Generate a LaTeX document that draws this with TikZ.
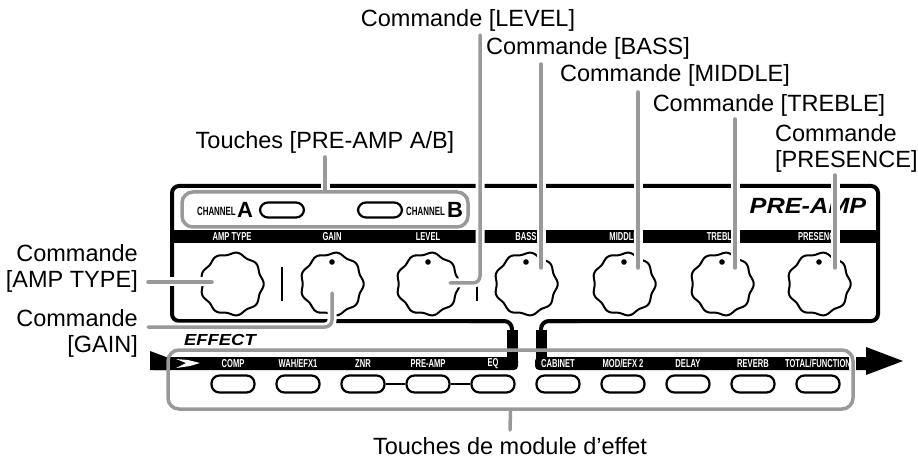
\documentclass[tikz,border=0pt]{standalone}
\usepackage{fontspec}
\setmainfont{Liberation Sans}
\newfontfamily\labfont{Liberation Sans}[FakeStretch=0.66]
\newfontfamily\titfont{Liberation Sans}[FakeStretch=1.15]
\usetikzlibrary{calc}
\definecolor{ldr}{gray}{0.6}
\begin{document}
\begin{tikzpicture}[x=1pt,y=-1pt,
  callout/.style={font=\fontsize{23.5}{26}\selectfont, inner sep=0pt, align=left},
  leader/.style={draw=ldr, line width=3.5pt, line cap=round, preaction={draw=white, line width=9pt, line cap=butt}},
  gbox/.style={draw=ldr, line width=3.5pt, rounded corners=11pt},
  btn/.style={draw=black, line width=2.2pt, rounded corners=8pt, minimum width=43pt, minimum height=17pt, inner sep=0pt},
  lab/.style={text=white, font=\labfont\bfseries\fontsize{11.5}{11.5}\selectfont, inner sep=0pt},
  knob/.style={draw=black, line width=2pt}]
\useasboundingbox (0,0) rectangle (918,462);
% ---------- pre-amp panel
\draw[line width=4pt, rounded corners=7pt] (505,321) -- (172,321) -- (172,186) -- (878,186) -- (878,321) -- (548,321);
\draw[line width=4pt, rounded corners=8pt] (470,321) -- (512,321) -- (512,362);
\draw[line width=4pt, rounded corners=8pt] (580,321) -- (541,321) -- (541,362);
\fill (507,330) rectangle (518,362);
\fill (536,330) rectangle (547,362);
\fill (172,230) rectangle (878,243);
\node[font=\titfont\bfseries\itshape\fontsize{22}{22}\selectfont, inner sep=0pt] (pretitle) at (808,206) {PRE-AMP};
% knob labels
\foreach \n/\x/\t in {amp/232/AMP TYPE, gain/332/GAIN, level/428/LEVEL, bass/526/BASS, middle/624/MIDDLE, treble/722/TREBLE, presence/819/PRESENCE}{
  \node[lab] (l\n) at (\x,237) {\t};
}
% knobs (wavy)
\foreach \n/\cx in {amp/232, gain/332, level/428, bass/526, middle/624, treble/722, presence/819}{
  \coordinate (k\n) at (\cx,284);
  \draw[knob] plot[domain=0:360, samples=240, smooth] ({\cx+(30.5+1.2*cos(9*\x))*cos(\x)}, {284+(30.5+1.2*cos(9*\x))*sin(\x)}) -- cycle;
}
\foreach \cx in {332,428,526,624,722,819}{\fill (\cx,262) circle (2.8pt);}
\draw[line width=2.5pt] (282,267) -- (282,301);
\draw[line width=2.5pt] (477,284) -- (477,301);
% channel buttons
\node[font=\labfont\bfseries\fontsize{12}{12}\selectfont, inner sep=0pt, anchor=east] (cha) at (236,211) {CHANNEL};
\node[font=\bfseries\fontsize{22}{22}\selectfont, inner sep=0pt, anchor=west] (chA) at (237,210) {A};
\node[btn, minimum width=44pt, minimum height=15pt] (btnA) at (282,210) {};
\node[btn, minimum width=44pt, minimum height=15pt] (btnB) at (380,210) {};
\node[font=\labfont\bfseries\fontsize{12}{12}\selectfont, inner sep=0pt, anchor=west] (chb) at (406,211) {CHANNEL};
\node[font=\bfseries\fontsize{22}{22}\selectfont, inner sep=0pt, anchor=west] (chB) at (447,210) {B};
\node[gbox, minimum width=286pt, minimum height=35pt, inner sep=0pt] (chbox) at (325,209.5) {};
% ---------- effect section
\node[font=\titfont\bfseries\itshape\fontsize{16}{16}\selectfont, inner sep=0pt, anchor=west] (efftitle) at (184,340) {EFFECT};
\fill[rounded corners=4pt] (150,357) -- (518,357) -- (518,370) -- (150,370) -- cycle;
\fill[black] (150,351) -- (166,357) -- (166,370) -- (150,370) -- cycle;
\fill[white] (176,359) -- (186,363) -- (176,368) -- (190,366) -- (200,363) -- (188,360) -- cycle;
\fill[rounded corners=4pt] (535,370) -- (535,357) -- (870,357) -- (870,370) -- cycle;
\fill (866,347) -- (903,361) -- (866,375) -- cycle;
\foreach \n/\x/\t in {comp/233/COMP, wah/298/{WAH/EFX1}, znr/363/ZNR, pre/428/PRE-AMP, eq/493/EQ, cab/558/CABINET, mod/623/{MOD/EFX 2}, delay/688/DELAY, rev/753/REVERB, tot/818/{TOTAL/FUNCTION}}{
  \node[lab] (e\n) at (\x,363.5) {\t};
  \node[btn] (b\n) at (\x,384) {};
}
\draw[line width=2.5pt] (bznr.east) -- (bpre.west);
\draw[line width=2.5pt] (bpre.east) -- (beq.west);
\fill[white] (849,357) rectangle (856,370);
\node[gbox, minimum width=685pt, minimum height=59pt, inner sep=0pt] (effbox) at (510.5,379.5) {};
% ---------- callouts
\node[callout, anchor=east, align=right] (tamp) at (138,268) {Commande\\{}[AMP TYPE]};
\node[callout, anchor=east, align=right] (tgain) at (138,333) {Commande\\{}[GAIN]};
\node[callout] (tlevel) at (468,20) {Commande [LEVEL]};
\node[callout, anchor=west] (tbass) at (486,48) {Commande [BASS]};
\node[callout] (tmiddle) at (675,75) {Commande [MIDDLE]};
\node[callout] (ttreble) at (769,105) {Commande [TREBLE]};
\node[callout, anchor=west] (tpres) at (775,148) {Commande\\{}[PRESENCE]};
\node[callout] (tab) at (325,142) {Touches [PRE-AMP A/B]};
\node[callout] (teff) at (510,446) {Touches de module d'effet};
% leaders
\coordinate (a1) at (148,282); \coordinate (a2) at (212,282);
\draw[leader] (a1) -- (a2);
\coordinate (g1) at (148,327); \coordinate (g2) at (332,293);
\draw[leader, rounded corners=7pt] (g1) -- (332,327) -- (g2);
\coordinate (v1) at (450,283); \coordinate (v2) at (480,35);
\draw[leader, rounded corners=7pt] (v1) -- (480,283) -- (v2);
\foreach \n/\x/\top in {bass/541/64, middle/638/92, treble/735/119, presence/835/175}{
  \coordinate (p\n) at (\x,\top);
  \draw[leader] (p\n) -- (\x,268);
}
\coordinate (ab) at (325,157);
\draw[leader] (chbox.north) -- (ab);
\coordinate (eb) at (510,430);
\draw[draw=ldr, line width=3.5pt, line cap=round] (effbox.south) -- (eb);
\end{tikzpicture}
\end{document}
